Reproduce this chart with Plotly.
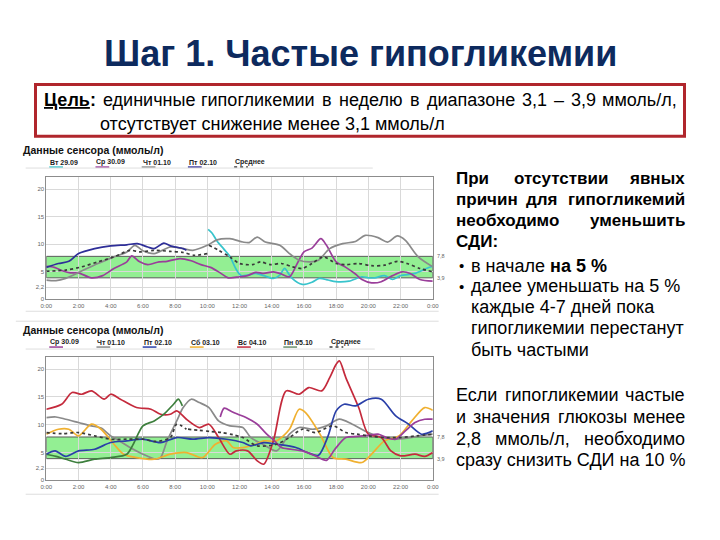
import plotly.graph_objects as go

# ---------------- DATA ----------------
TITLE = "Шаг 1. Частые гипогликемии"
GOAL_LINE1 = ["Цель:", "единичные", "гипогликемии", "в", "неделю", "в", "диапазоне", "3,1", "–", "3,9", "ммоль/л,"]
GOAL_LINE2 = "отсутствует снижение менее 3,1 ммоль/л"
CHART_TITLE = "Данные сенсора (ммоль/л)"

TARGET_LOW = 3.9
TARGET_HIGH = 7.8
Y_TICKS = [0, 2.2, 5, 10, 15, 20]
Y_TICKTEXT = ["0", "2,2", "5", "10", "15", "20"]
X_TICKS = list(range(0, 25, 2))
X_TICKTEXT = ["0:00", "2:00", "4:00", "6:00", "8:00", "10:00", "12:00", "14:00",
              "16:00", "18:00", "20:00", "22:00", "0:00"]

# ---- chart 1 (top) ----
top_labels = ["Вт 29.09", "Ср 30.09", "Чт 01.10", "Пт 02.10", "Среднее"]

tue_2909_t = [10.05, 10.3, 10.6, 11.0, 11.4, 11.8, 12.1, 12.5, 13.0, 13.5, 14.1, 14.5, 14.8, 15.2,
              15.9, 16.5, 16.95, 17.5, 17.98, 18.8, 19.6, 20.0, 20.4, 21.0, 21.5, 22.0, 22.9, 23.6, 24.0]
tue_2909_v = [12.7, 12.0, 10.6, 9.2, 7.8, 5.4, 4.3, 4.4, 4.7, 4.3, 3.8, 4.4, 5.6, 4.0,
              2.7, 3.1, 3.8, 3.5, 3.2, 3.3, 4.1, 3.9, 3.9, 4.3, 3.6, 4.3, 4.7, 5.6, 6.0]

wed_3009_t = [0, 0.5, 1.0, 1.5, 2.0, 2.8, 3.5, 4.2, 5.0, 5.3, 5.8, 6.3, 7.0, 7.5, 8.3, 9.0, 9.6, 10.2,
              10.8, 11.3, 12.0, 12.5, 13.0, 13.5, 14.1, 14.6, 15.1, 15.6, 16.0, 16.5, 17.05, 17.4, 18.0,
              18.6, 19.2, 19.6, 20.2, 20.8, 21.5, 22.1, 22.6, 23.2, 24.0]
wed_3009_v = [6.0, 5.8, 5.2, 4.8, 4.8, 3.9, 4.3, 5.6, 6.8, 7.9, 6.8, 6.3, 6.8, 6.9, 7.4, 7.0, 6.3, 5.8,
              4.8, 3.9, 4.1, 4.3, 4.9, 4.7, 5.0, 4.6, 4.1, 6.6, 8.6, 9.3, 11.0, 9.8, 6.8,
              5.8, 4.6, 3.6, 3.0, 3.2, 4.3, 5.0, 4.7, 3.6, 3.3]

thu_0110_t = [0, 0.6, 1.2, 2.1, 3.2, 4.2, 5.0, 5.5, 6.0, 6.7, 7.7, 8.5, 9.1, 10.0, 10.6, 11.4, 12.2,
              12.6, 13.1, 13.6, 14.5, 15.1, 15.7, 16.4, 16.9, 17.6, 18.4, 19.2, 19.8, 20.6, 21.2,
              21.8, 22.3, 23.1, 24.0]
thu_0110_v = [3.5, 3.4, 3.8, 5.0, 6.5, 7.7, 8.6, 9.8, 8.8, 8.3, 9.5, 9.2, 8.9, 9.8, 10.8, 11.0, 10.4,
              10.3, 11.3, 10.4, 9.8, 8.3, 7.1, 6.8, 7.1, 9.2, 10.1, 10.5, 11.6, 11.2, 10.4,
              11.5, 10.7, 7.7, 5.9]

fri_0210_t = [0, 0.75, 1.4, 2.0, 3.0, 4.0, 5.0, 5.65, 6.3, 6.7, 7.3, 7.7, 8.5, 8.7]
fri_0210_v = [5.8, 6.5, 6.9, 8.3, 9.2, 9.7, 9.9, 10.1, 9.5, 9.2, 10.2, 9.7, 9.2, 8.9]

avg1_t = [0, 1.2, 2.2, 3.2, 4.2, 5.2, 5.8, 6.7, 7.7, 8.5, 9.2, 10.0, None,
          10.1, 10.7, 11.4, 12.0, 12.8, 13.3, 13.9, 14.6, 15.3, 15.9, 16.5, 17.2, 18.0, 18.6,
          19.4, 20.2, 21.0, 21.8, 22.4, 23.2, 24.0]
avg1_v = [5.1, 5.3, 5.9, 6.8, 7.7, 8.9, 8.6, 8.9, 8.7, 8.5, 8.0, 8.3, None,
          9.8, 8.9, 7.7, 6.5, 6.3, 6.8, 6.3, 6.5, 5.9, 5.6, 6.5, 7.7, 6.5, 6.3,
          6.5, 6.1, 6.2, 6.9, 6.5, 5.6, 5.0]

# ---- chart 2 (bottom) ----
bottom_labels = ["Ср 30.09", "Чт 01.10", "Пт 02.10", "Сб 03.10", "Вс 04.10", "Пн 05.10", "Среднее"]

wed2_t = [10.8, 11.05, 11.5, 11.9, 12.4, 13.1, 13.6, 14.2, 14.6, 15.2, 16.0, 16.7, 17.4, 17.9, 18.6,
          19.3, 20.0, 20.6, 21.2, 21.7, 22.3, 22.9, 23.5, 24.0]
wed2_v = [11.4, 13.0, 12.4, 11.9, 11.3, 10.1, 8.6, 7.0, 5.9, 5.6, 5.2, 4.4, 3.6, 5.5, 7.7,
          7.9, 8.1, 8.3, 7.6, 7.4, 8.9, 10.4, 11.0, 11.0]

thu2_t = [0, 0.6, 1.2, 2.0, 2.8, 3.4, 4.0, 4.6, 5.2, 6.0, 6.8, 7.1, 7.5, 8.1, 8.5, 9.0, 9.5, 10.1,
          10.7, 11.4, 12.2, 12.7, 13.5, 14.3, 15.1, 15.7, 16.6, 17.4, 18.2, 19.0, 20.0, 20.8,
          21.6, 22.4, 23.2, 24.0]
thu2_v = [11.3, 11.4, 11.0, 10.4, 9.8, 9.4, 8.0, 7.0, 5.9, 4.7, 3.8, 4.1, 7.1, 10.7, 13.1, 14.6, 14.0, 13.1,
          10.7, 9.8, 9.5, 7.7, 6.4, 5.3, 8.3, 9.5, 9.2, 9.8, 11.0, 10.1, 8.6, 7.7,
          7.4, 7.6, 8.0, 8.3]

fri2_t = [0, 0.55, 1.2, 2.0, 3.0, 4.0, 5.0, 6.0, 7.1, 8.1, 9.1, 10.1, 11.2, 12.2, 12.7, 13.5, 14.3,
          15.5, 16.3, 16.9, 17.5, 18.0, 18.5, 19.2, 20.0, 20.8, 21.7, 22.5, 23.3, 24.0]
fri2_v = [4.7, 5.3, 4.3, 5.3, 5.6, 6.8, 7.1, 7.4, 6.8, 7.7, 7.4, 7.7, 7.4, 6.8, 6.2, 6.8, 6.5,
          5.9, 4.9, 4.5, 8.0, 12.5, 13.7, 13.4, 14.6, 14.6, 11.6, 10.1, 8.3, 8.9]

sat2_t = [0, 0.75, 1.4, 2.0, 2.8, 3.4, 4.2, 4.8, 5.6, 6.7, 7.7, 8.7, 9.7, 10.5, 11.2, 11.6, 12.2,
          13.0, 13.5, 14.3, 15.1, 15.7, 16.1, 17.0, 17.8, 18.6, 19.6, 20.2, 21.0, 21.9, 22.7, 23.5, 24.0]
sat2_v = [8.3, 9.2, 9.2, 8.0, 10.1, 9.2, 6.5, 4.7, 4.1, 3.8, 4.7, 5.0, 4.1, 6.5, 7.1, 5.9, 5.9,
          6.5, 7.1, 7.1, 9.2, 12.8, 12.2, 8.3, 4.1, 3.8, 3.2, 4.7, 7.1, 8.0, 10.7, 13.1, 12.6]

sun2_t = [0, 0.95, 1.6, 2.2, 2.8, 3.6, 4.0, 4.6, 5.6, 6.5, 7.1, 7.7, 8.1, 8.7, 9.5, 10.1, 10.7, 11.4,
          11.8, 12.5, 13.1, 13.5, 14.1, 14.9, 15.7, 16.3, 17.1, 17.6, 18.0, 18.2, 18.6, 19.4, 20.0,
          20.8, 21.4, 22.0, 22.9, 23.5, 24.0]
sun2_v = [12.8, 13.7, 15.8, 15.5, 16.1, 14.6, 15.5, 14.6, 13.1, 12.8, 11.9, 11.9, 12.5, 11.0, 9.5, 10.1, 7.7, 4.7,
          5.3, 5.3, 3.5, 2.9, 7.1, 16.1, 15.5, 16.7, 16.1, 18.5, 20.9, 21.5, 18.5, 13.1, 8.3,
          7.7, 5.3, 4.4, 4.7, 4.3, 5.0]

mon2_t = [0, 0.6, 1.2, 2.0, 3.0, 4.0, 5.0, 5.4, 6.0, 6.7, 7.3, 7.9, 8.2, 8.45]
mon2_v = [4.7, 4.3, 3.8, 3.2, 3.8, 4.1, 4.7, 6.5, 9.8, 10.7, 11.9, 13.7, 14.6, 13.4]

avg2_t = [0, 1, 2, 3, 4, 5, 6, 6.8, 7.7, 8.1, 8.7, None,
          8.8, 9.5, 10.2, 10.9, 11.6, 12.2, 13.1, 14.3, 15.1, 15.9, 16.7, 17.8, 18.6, 19.3, 20.0,
          21.0, 22.0, 23.0, 24.0]
avg2_v = [8.6, 8.4, 8.6, 8.0, 7.4, 7.4, 7.4, 7.0, 7.7, 10.1, 9.2, None,
          9.2, 9.0, 8.8, 8.6, 8.2, 7.7, 6.2, 6.5, 7.7, 9.2, 8.6, 9.8, 8.6, 8.3, 8.0,
          7.7, 7.7, 8.0, 8.3]

# ---------------- STYLE ----------------
C_CYAN = "#38c4cc"
C_PURPLE = "#9a3e9a"
C_GREY = "#8a8a8a"
C_NAVY = "#2e2e98"
C_BLUE = "#2a3fa8"
C_ORANGE = "#f0b030"
C_RED = "#c42a3c"
C_GREEN = "#3d7f3d"
C_AVG = "#3a3a3a"
C_BAND = "#93ef93"

FONT = "Liberation Sans"
W, H = 720, 540


def px(x):
    return x / W


def py(y):
    return 1 - y / H


# Arial-compatible character width table (em units)
CW = {'а': .556, 'б': .573, 'в': .531, 'г': .365, 'д': .583, 'е': .556, 'ж': .669, 'з': .458,
      'и': .559, 'й': .559, 'к': .438, 'л': .583, 'м': .688, 'н': .552, 'о': .556, 'п': .542,
      'р': .556, 'с': .5, 'т': .458, 'у': .5, 'ф': .823, 'х': .5, 'ц': .573, 'ч': .521, 'ш': .802,
      'щ': .823, 'ъ': .625, 'ы': .719, 'ь': .521, 'э': .51, 'ю': .75, 'я': .542,
      'П': .722, 'Е': .667, 'С': .722, 'Д': .688, 'И': .722, 'Ц': .74, 'Ш': .927, 'Ч': .667,
      ',': .278, '.': .278, ':': .278, '/': .278, '-': .333, '–': .556, '%': .889, ' ': .278}


def textw(s, size, bold=False):
    w = 0
    for ch in s:
        base = CW.get(ch, .556)
        if bold and ch.isalpha():
            base *= 1.12
        w += base
    return w * size


annotations = []
shapes = []


def txt(x, y, s, size, color="#000", anchor="left", family=FONT):
    annotations.append(dict(
        x=px(x), y=py(y), xref="paper", yref="paper", text=s, showarrow=False,
        xanchor=anchor, yanchor="middle", borderpad=0,
        font=dict(size=size, color=color, family=family)))


def justify(words, x0, x1, y, size, color="#000", bold_flags=None, displays=None):
    n = len(words)
    bold_flags = bold_flags or [False] * n
    displays = displays or words
    widths = [textw(w, size, b) for w, b in zip(words, bold_flags)]
    gap = (x1 - x0 - sum(widths)) / (n - 1)
    x = x0
    for i in range(n):
        d = displays[i]
        if bold_flags[i] and not d.startswith("<b>"):
            d = "<b>" + d + "</b>"
        if i == 0:
            txt(x0, y, d, size, color, "left")
        elif i == n - 1:
            txt(x1, y, d, size, color, "right")
        else:
            txt(x + widths[i] / 2, y, d, size, color, "center")
        x += widths[i] + gap


# ---- title ----
txt(360, 54, "<b>" + TITLE + "</b>", 36, "#0d2a5e", "center")

# ---- goal box ----
shapes.append(dict(type="rect", xref="paper", yref="paper", x0=px(30), x1=px(690), y0=py(137), y1=py(85),
                   line=dict(color="#b0262c", width=3), fillcolor="rgba(0,0,0,0)"))
disp1 = ["<b><u>Цель</u>:</b>"] + GOAL_LINE1[1:]
justify(GOAL_LINE1, 38, 683, 101, 18, "#000", [True] + [False] * (len(GOAL_LINE1) - 1), disp1)
txt(95, 125, GOAL_LINE2, 18, "#000", "left")

# ---- right text ----
RX0, RX1 = 457, 692
FS = 18
FB = 17
justify(["При", "отсутствии", "явных"], RX0, RX1, 179, FB, bold_flags=[True] * 3)
justify(["причин", "для", "гипогликемий"], RX0, RX1, 201, FB, bold_flags=[True] * 3)
justify(["необходимо", "уменьшить"], RX0, RX1, 222, FB, bold_flags=[True] * 2)
txt(RX0, 243, "<b>СДИ:</b>", FB)
bullets = [("в начале <b>на 5 %</b>", 267, True), ("далее уменьшать на 5 %", 288, True),
           ("каждые 4-7 дней пока", 309, False), ("гипогликемии перестанут", 330, False),
           ("быть частыми", 352, False)]
for s, yy, has_b in bullets:
    if has_b:
        txt(463, yy, "•", 15, "#000", "center")
    txt(472, yy, s, FS)
justify(["Если", "гипогликемии", "частые"], RX0, RX1, 397, FS)
justify(["и", "значения", "глюкозы", "менее"], RX0, RX1, 419, FS)
justify(["2,8", "ммоль/л,", "необходимо"], RX0, RX1, 441, FS)
txt(RX0, 463, "сразу снизить СДИ на 10 %", FS)

# ---- chart frames ----
charts = [
    dict(top=178, bottom=301, title_y=151, leg_y=163, xa="x", ya="y",
         labels=top_labels, leg_x=[44, 91, 138, 185, 232],
         colors=[C_CYAN, C_PURPLE, C_GREY, C_NAVY, C_AVG],
         series=[(tue_2909_t, tue_2909_v, C_CYAN, "solid"), (wed_3009_t, wed_3009_v, C_PURPLE, "solid"),
                 (thu_0110_t, thu_0110_v, C_GREY, "solid"), (fri_0210_t, fri_0210_v, C_NAVY, "solid"),
                 (avg1_t, avg1_v, C_AVG, "dot")],
         seps=[(20, 373, 169), (20, 440, 313)]),
    dict(top=359, bottom=483, title_y=332, leg_y=344, xa="x2", ya="y2",
         labels=bottom_labels, leg_x=[44, 92, 139, 187, 235, 282, 329],
         colors=[C_PURPLE, C_GREY, C_BLUE, C_ORANGE, C_RED, "#6b8f6b", C_AVG],
         series=[(thu2_t, thu2_v, C_GREY, "solid"), (sat2_t, sat2_v, C_ORANGE, "solid"),
                 (sun2_t, sun2_v, C_RED, "solid"), (mon2_t, mon2_v, C_GREEN, "solid"),
                 (fri2_t, fri2_v, C_BLUE, "solid"), (wed2_t, wed2_v, C_PURPLE, "solid"),
                 (avg2_t, avg2_v, C_AVG, "dot")],
         seps=[(10, 440, 323), (20, 375, 351), (20, 440, 497)]),
]

PLOT_X0, PLOT_X1 = 41, 434
fig = go.Figure()
layout_axes = {}
for i, c in enumerate(charts):
    xname = "xaxis" if i == 0 else "xaxis2"
    yname = "yaxis" if i == 0 else "yaxis2"
    layout_axes[xname] = dict(domain=[px(PLOT_X0), px(PLOT_X1)], anchor=c["ya"], range=[0, 24],
                              tickvals=X_TICKS, ticktext=X_TICKTEXT, showgrid=True, gridcolor="#d9d9d9",
                              gridwidth=1, zeroline=False, showline=True, linecolor="#8c8c8c", linewidth=1,
                              mirror=True, ticks="", tickfont=dict(size=6, color="#666", family=FONT),
                              fixedrange=True)
    layout_axes[yname] = dict(domain=[py(c["bottom"]), py(c["top"])], anchor=c["xa"], range=[0, 22.2],
                              tickvals=Y_TICKS, ticktext=Y_TICKTEXT, showgrid=True, gridcolor="#d9d9d9",
                              gridwidth=1, zeroline=False, showline=True, linecolor="#8c8c8c", linewidth=1,
                              mirror=True, ticks="", tickfont=dict(size=6, color="#666", family=FONT),
                              fixedrange=True)
    shapes.append(dict(type="rect", xref=c["xa"], yref=c["ya"], x0=0, x1=24, y0=TARGET_LOW, y1=TARGET_HIGH,
                       fillcolor=C_BAND, line=dict(color="#5a5a5a", width=1), layer="below"))
    for val, lab in [(TARGET_HIGH, "7,8"), (TARGET_LOW, "3,9")]:
        annotations.append(dict(x=px(436), y=val, xref="paper", yref=c["ya"], text=lab, showarrow=False,
                                xanchor="left", yanchor="middle", font=dict(size=5.5, color="#666", family=FONT)))
    txt(16, c["title_y"], "<b>" + CHART_TITLE + "</b>", 10.5, "#111", "left")
    for lx, lab, col in zip(c["leg_x"], c["labels"], c["colors"]):
        txt(lx, c["leg_y"], "<b>" + lab + "</b>", 7, "#222", "left")
        shapes.append(dict(type="line", xref="paper", yref="paper", x0=px(lx), x1=px(lx + 14),
                           y0=py(c["leg_y"] + 5), y1=py(c["leg_y"] + 5),
                           line=dict(color=col, width=1.5, dash="dot" if lab == "Среднее" else "solid")))
    for sx0, sx1, sy in c["seps"]:
        shapes.append(dict(type="line", xref="paper", yref="paper", x0=px(sx0), x1=px(sx1), y0=py(sy), y1=py(sy),
                           line=dict(color="#dedede", width=1)))
    for t, v, col, dash in c["series"]:
        fig.add_trace(go.Scatter(x=t, y=v, xaxis=c["xa"], yaxis=c["ya"], mode="lines",
                                 line=dict(color=col, width=1.7, shape="spline", smoothing=0.8, dash=dash),
                                 connectgaps=False, hoverinfo="skip", showlegend=False))

fig.update_layout(width=W, height=H, margin=dict(l=0, r=0, t=0, b=0), paper_bgcolor="white",
                  plot_bgcolor="white", showlegend=False, annotations=annotations, shapes=shapes,
                  font=dict(family=FONT), **layout_axes)
fig.write_html("out.html", config={"displayModeBar": False},
               post_script="document.body.style.margin='0px';")
